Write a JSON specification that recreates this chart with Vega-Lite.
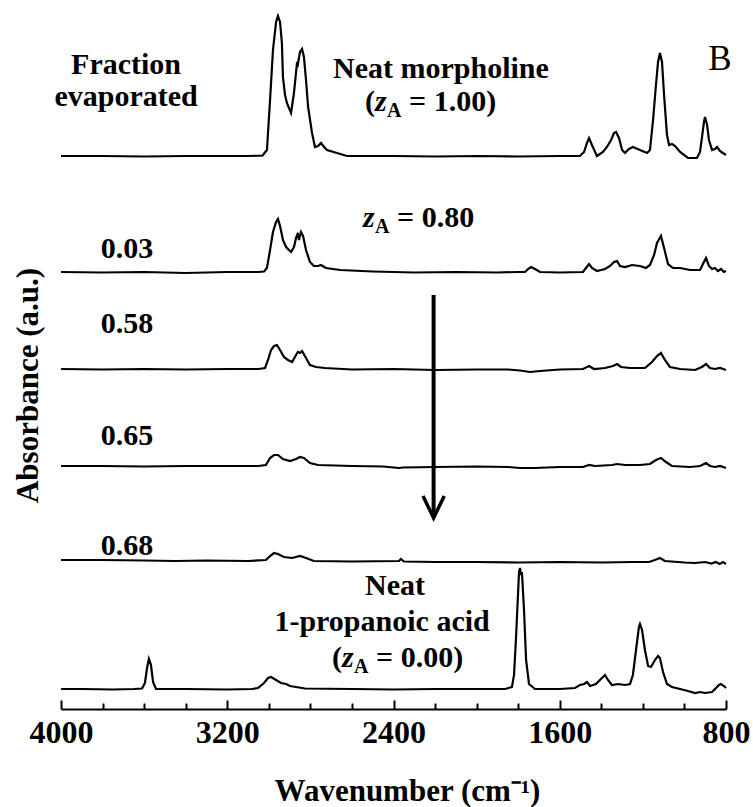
{
 "$schema": "https://vega.github.io/schema/vega-lite/v6.json",
 "width": 665,
 "height": 709,
 "autosize": {"type": "none"},
 "padding": {"left": 61, "top": 0, "right": 27, "bottom": 98},
 "background": "white",
 "config": {"view": {"stroke": null}, "font": "Liberation Serif"},
 "datasets": {
  "spec": [
   {"s":"m","wn":4000,"A":5.53},{"s":"m","wn":3800,"A":5.53},{"s":"m","wn":3600,"A":5.525},{"s":"m","wn":3400,"A":5.53},{"s":"m","wn":3200,"A":5.53},{"s":"m","wn":3100,"A":5.53},{"s":"m","wn":3030,"A":5.535},{"s":"m","wn":3009,"A":5.59},{"s":"m","wn":2994,"A":6.09},{"s":"m","wn":2980,"A":6.59},{"s":"m","wn":2965,"A":6.87},{"s":"m","wn":2956,"A":6.93},{"s":"m","wn":2946,"A":6.87},{"s":"m","wn":2937,"A":6.66},{"s":"m","wn":2932,"A":6.32},{"s":"m","wn":2922,"A":6.14},{"s":"m","wn":2913,"A":6.06},{"s":"m","wn":2903,"A":6.01},{"s":"m","wn":2893,"A":5.96},{"s":"m","wn":2879,"A":6.16},{"s":"m","wn":2864,"A":6.47},{"s":"m","wn":2860,"A":6.45},{"s":"m","wn":2850,"A":6.57},{"s":"m","wn":2840,"A":6.60},{"s":"m","wn":2831,"A":6.52},{"s":"m","wn":2821,"A":6.29},{"s":"m","wn":2811,"A":6.02},{"s":"m","wn":2792,"A":5.76},{"s":"m","wn":2778,"A":5.62},{"s":"m","wn":2763,"A":5.63},{"s":"m","wn":2749,"A":5.66},{"s":"m","wn":2734,"A":5.62},{"s":"m","wn":2720,"A":5.59},{"s":"m","wn":2672,"A":5.56},{"s":"m","wn":2624,"A":5.53},{"s":"m","wn":2400,"A":5.53},{"s":"m","wn":2200,"A":5.525},{"s":"m","wn":2000,"A":5.53},{"s":"m","wn":1800,"A":5.525},{"s":"m","wn":1600,"A":5.53},{"s":"m","wn":1503,"A":5.53},{"s":"m","wn":1483,"A":5.57},{"s":"m","wn":1469,"A":5.66},{"s":"m","wn":1459,"A":5.71},{"s":"m","wn":1445,"A":5.64},{"s":"m","wn":1421,"A":5.53},{"s":"m","wn":1392,"A":5.57},{"s":"m","wn":1373,"A":5.62},{"s":"m","wn":1353,"A":5.69},{"s":"m","wn":1339,"A":5.76},{"s":"m","wn":1329,"A":5.77},{"s":"m","wn":1315,"A":5.71},{"s":"m","wn":1300,"A":5.59},{"s":"m","wn":1286,"A":5.56},{"s":"m","wn":1267,"A":5.60},{"s":"m","wn":1248,"A":5.62},{"s":"m","wn":1214,"A":5.59},{"s":"m","wn":1180,"A":5.56},{"s":"m","wn":1166,"A":5.59},{"s":"m","wn":1151,"A":5.89},{"s":"m","wn":1137,"A":6.24},{"s":"m","wn":1127,"A":6.47},{"s":"m","wn":1118,"A":6.56},{"s":"m","wn":1108,"A":6.47},{"s":"m","wn":1098,"A":6.14},{"s":"m","wn":1084,"A":5.74},{"s":"m","wn":1074,"A":5.64},{"s":"m","wn":1060,"A":5.65},{"s":"m","wn":1045,"A":5.63},{"s":"m","wn":1021,"A":5.57},{"s":"m","wn":983,"A":5.51},{"s":"m","wn":940,"A":5.51},{"s":"m","wn":925,"A":5.57},{"s":"m","wn":916,"A":5.71},{"s":"m","wn":906,"A":5.87},{"s":"m","wn":901,"A":5.92},{"s":"m","wn":891,"A":5.84},{"s":"m","wn":882,"A":5.69},{"s":"m","wn":867,"A":5.59},{"s":"m","wn":853,"A":5.60},{"s":"m","wn":843,"A":5.62},{"s":"m","wn":829,"A":5.58},{"s":"m","wn":815,"A":5.56},{"s":"m","wn":800,"A":5.54},

   {"s":"a","wn":4000,"A":4.37},{"s":"a","wn":3800,"A":4.365},{"s":"a","wn":3600,"A":4.37},{"s":"a","wn":3400,"A":4.36},{"s":"a","wn":3200,"A":4.37},{"s":"a","wn":3050,"A":4.37},{"s":"a","wn":3023,"A":4.375},{"s":"a","wn":3009,"A":4.41},{"s":"a","wn":2994,"A":4.59},{"s":"a","wn":2980,"A":4.77},{"s":"a","wn":2965,"A":4.87},{"s":"a","wn":2956,"A":4.90},{"s":"a","wn":2946,"A":4.83},{"s":"a","wn":2932,"A":4.69},{"s":"a","wn":2917,"A":4.62},{"s":"a","wn":2903,"A":4.59},{"s":"a","wn":2893,"A":4.57},{"s":"a","wn":2879,"A":4.62},{"s":"a","wn":2869,"A":4.71},{"s":"a","wn":2860,"A":4.76},{"s":"a","wn":2855,"A":4.69},{"s":"a","wn":2845,"A":4.77},{"s":"a","wn":2835,"A":4.73},{"s":"a","wn":2821,"A":4.59},{"s":"a","wn":2802,"A":4.47},{"s":"a","wn":2783,"A":4.43},{"s":"a","wn":2763,"A":4.43},{"s":"a","wn":2749,"A":4.44},{"s":"a","wn":2725,"A":4.41},{"s":"a","wn":2657,"A":4.39},{"s":"a","wn":2500,"A":4.375},{"s":"a","wn":2300,"A":4.365},{"s":"a","wn":2100,"A":4.37},{"s":"a","wn":1900,"A":4.365},{"s":"a","wn":1800,"A":4.37},{"s":"a","wn":1767,"A":4.37},{"s":"a","wn":1753,"A":4.40},{"s":"a","wn":1738,"A":4.42},{"s":"a","wn":1719,"A":4.40},{"s":"a","wn":1695,"A":4.37},{"s":"a","wn":1600,"A":4.365},{"s":"a","wn":1488,"A":4.37},{"s":"a","wn":1474,"A":4.41},{"s":"a","wn":1459,"A":4.45},{"s":"a","wn":1445,"A":4.41},{"s":"a","wn":1421,"A":4.38},{"s":"a","wn":1382,"A":4.40},{"s":"a","wn":1358,"A":4.43},{"s":"a","wn":1339,"A":4.47},{"s":"a","wn":1324,"A":4.48},{"s":"a","wn":1310,"A":4.43},{"s":"a","wn":1286,"A":4.42},{"s":"a","wn":1252,"A":4.44},{"s":"a","wn":1214,"A":4.43},{"s":"a","wn":1185,"A":4.41},{"s":"a","wn":1166,"A":4.44},{"s":"a","wn":1146,"A":4.54},{"s":"a","wn":1132,"A":4.66},{"s":"a","wn":1113,"A":4.73},{"s":"a","wn":1098,"A":4.61},{"s":"a","wn":1079,"A":4.45},{"s":"a","wn":1055,"A":4.41},{"s":"a","wn":1021,"A":4.41},{"s":"a","wn":973,"A":4.39},{"s":"a","wn":925,"A":4.39},{"s":"a","wn":911,"A":4.45},{"s":"a","wn":896,"A":4.51},{"s":"a","wn":882,"A":4.43},{"s":"a","wn":867,"A":4.40},{"s":"a","wn":853,"A":4.41},{"s":"a","wn":839,"A":4.38},{"s":"a","wn":824,"A":4.40},{"s":"a","wn":810,"A":4.37},{"s":"a","wn":800,"A":4.38},

   {"s":"b","wn":4000,"A":3.40},{"s":"b","wn":3800,"A":3.395},{"s":"b","wn":3600,"A":3.40},{"s":"b","wn":3400,"A":3.395},{"s":"b","wn":3200,"A":3.40},{"s":"b","wn":3050,"A":3.40},{"s":"b","wn":3018,"A":3.41},{"s":"b","wn":3004,"A":3.49},{"s":"b","wn":2989,"A":3.59},{"s":"b","wn":2975,"A":3.63},{"s":"b","wn":2961,"A":3.64},{"s":"b","wn":2946,"A":3.59},{"s":"b","wn":2927,"A":3.52},{"s":"b","wn":2908,"A":3.49},{"s":"b","wn":2888,"A":3.47},{"s":"b","wn":2869,"A":3.54},{"s":"b","wn":2860,"A":3.57},{"s":"b","wn":2850,"A":3.56},{"s":"b","wn":2840,"A":3.58},{"s":"b","wn":2821,"A":3.51},{"s":"b","wn":2802,"A":3.44},{"s":"b","wn":2773,"A":3.42},{"s":"b","wn":2730,"A":3.41},{"s":"b","wn":2600,"A":3.395},{"s":"b","wn":2400,"A":3.40},{"s":"b","wn":2200,"A":3.39},{"s":"b","wn":2000,"A":3.395},{"s":"b","wn":1850,"A":3.395},{"s":"b","wn":1791,"A":3.385},{"s":"b","wn":1743,"A":3.37},{"s":"b","wn":1695,"A":3.38},{"s":"b","wn":1599,"A":3.395},{"s":"b","wn":1488,"A":3.40},{"s":"b","wn":1459,"A":3.43},{"s":"b","wn":1435,"A":3.40},{"s":"b","wn":1382,"A":3.41},{"s":"b","wn":1344,"A":3.43},{"s":"b","wn":1324,"A":3.45},{"s":"b","wn":1305,"A":3.42},{"s":"b","wn":1262,"A":3.41},{"s":"b","wn":1190,"A":3.41},{"s":"b","wn":1156,"A":3.47},{"s":"b","wn":1132,"A":3.53},{"s":"b","wn":1113,"A":3.56},{"s":"b","wn":1094,"A":3.49},{"s":"b","wn":1070,"A":3.42},{"s":"b","wn":1021,"A":3.40},{"s":"b","wn":949,"A":3.39},{"s":"b","wn":916,"A":3.42},{"s":"b","wn":896,"A":3.45},{"s":"b","wn":877,"A":3.41},{"s":"b","wn":853,"A":3.40},{"s":"b","wn":829,"A":3.41},{"s":"b","wn":800,"A":3.39},

   {"s":"c","wn":4000,"A":2.43},{"s":"c","wn":3800,"A":2.43},{"s":"c","wn":3600,"A":2.425},{"s":"c","wn":3400,"A":2.43},{"s":"c","wn":3200,"A":2.43},{"s":"c","wn":3050,"A":2.43},{"s":"c","wn":3014,"A":2.44},{"s":"c","wn":2994,"A":2.51},{"s":"c","wn":2975,"A":2.54},{"s":"c","wn":2956,"A":2.54},{"s":"c","wn":2932,"A":2.50},{"s":"c","wn":2898,"A":2.48},{"s":"c","wn":2869,"A":2.50},{"s":"c","wn":2850,"A":2.52},{"s":"c","wn":2831,"A":2.51},{"s":"c","wn":2802,"A":2.46},{"s":"c","wn":2763,"A":2.44},{"s":"c","wn":2600,"A":2.43},{"s":"c","wn":2450,"A":2.425},{"s":"c","wn":2374,"A":2.41},{"s":"c","wn":2354,"A":2.415},{"s":"c","wn":2200,"A":2.42},{"s":"c","wn":2000,"A":2.425},{"s":"c","wn":1850,"A":2.42},{"s":"c","wn":1791,"A":2.41},{"s":"c","wn":1719,"A":2.41},{"s":"c","wn":1600,"A":2.42},{"s":"c","wn":1488,"A":2.42},{"s":"c","wn":1459,"A":2.44},{"s":"c","wn":1430,"A":2.43},{"s":"c","wn":1349,"A":2.44},{"s":"c","wn":1324,"A":2.45},{"s":"c","wn":1286,"A":2.44},{"s":"c","wn":1214,"A":2.44},{"s":"c","wn":1166,"A":2.45},{"s":"c","wn":1137,"A":2.49},{"s":"c","wn":1113,"A":2.51},{"s":"c","wn":1089,"A":2.47},{"s":"c","wn":1060,"A":2.43},{"s":"c","wn":973,"A":2.42},{"s":"c","wn":925,"A":2.43},{"s":"c","wn":896,"A":2.46},{"s":"c","wn":877,"A":2.43},{"s":"c","wn":853,"A":2.42},{"s":"c","wn":829,"A":2.43},{"s":"c","wn":800,"A":2.41},

   {"s":"d","wn":4000,"A":1.49},{"s":"d","wn":3800,"A":1.49},{"s":"d","wn":3600,"A":1.485},{"s":"d","wn":3450,"A":1.48},{"s":"d","wn":3300,"A":1.485},{"s":"d","wn":3100,"A":1.48},{"s":"d","wn":3014,"A":1.49},{"s":"d","wn":2994,"A":1.53},{"s":"d","wn":2975,"A":1.56},{"s":"d","wn":2956,"A":1.55},{"s":"d","wn":2927,"A":1.52},{"s":"d","wn":2888,"A":1.51},{"s":"d","wn":2850,"A":1.53},{"s":"d","wn":2821,"A":1.51},{"s":"d","wn":2783,"A":1.48},{"s":"d","wn":2600,"A":1.475},{"s":"d","wn":2374,"A":1.48},{"s":"d","wn":2364,"A":1.50},{"s":"d","wn":2350,"A":1.475},{"s":"d","wn":2200,"A":1.47},{"s":"d","wn":2000,"A":1.47},{"s":"d","wn":1800,"A":1.465},{"s":"d","wn":1600,"A":1.47},{"s":"d","wn":1400,"A":1.465},{"s":"d","wn":1250,"A":1.47},{"s":"d","wn":1170,"A":1.47},{"s":"d","wn":1142,"A":1.49},{"s":"d","wn":1118,"A":1.51},{"s":"d","wn":1094,"A":1.48},{"s":"d","wn":1000,"A":1.465},{"s":"d","wn":950,"A":1.46},{"s":"d","wn":900,"A":1.47},{"s":"d","wn":870,"A":1.455},{"s":"d","wn":850,"A":1.47},{"s":"d","wn":830,"A":1.45},{"s":"d","wn":815,"A":1.47},{"s":"d","wn":800,"A":1.45},

   {"s":"e","wn":4000,"A":0.20},{"s":"e","wn":3900,"A":0.20},{"s":"e","wn":3750,"A":0.195},{"s":"e","wn":3650,"A":0.20},{"s":"e","wn":3610,"A":0.205},{"s":"e","wn":3596,"A":0.26},{"s":"e","wn":3586,"A":0.41},{"s":"e","wn":3577,"A":0.50},{"s":"e","wn":3567,"A":0.44},{"s":"e","wn":3557,"A":0.27},{"s":"e","wn":3543,"A":0.20},{"s":"e","wn":3400,"A":0.20},{"s":"e","wn":3200,"A":0.195},{"s":"e","wn":3080,"A":0.20},{"s":"e","wn":3052,"A":0.21},{"s":"e","wn":3023,"A":0.26},{"s":"e","wn":3004,"A":0.31},{"s":"e","wn":2989,"A":0.32},{"s":"e","wn":2965,"A":0.29},{"s":"e","wn":2941,"A":0.26},{"s":"e","wn":2917,"A":0.25},{"s":"e","wn":2898,"A":0.23},{"s":"e","wn":2869,"A":0.22},{"s":"e","wn":2826,"A":0.205},{"s":"e","wn":2600,"A":0.20},{"s":"e","wn":2400,"A":0.195},{"s":"e","wn":2200,"A":0.20},{"s":"e","wn":2000,"A":0.20},{"s":"e","wn":1863,"A":0.20},{"s":"e","wn":1830,"A":0.22},{"s":"e","wn":1820,"A":0.34},{"s":"e","wn":1811,"A":0.69},{"s":"e","wn":1801,"A":1.14},{"s":"e","wn":1796,"A":1.37},{"s":"e","wn":1791,"A":1.41},{"s":"e","wn":1787,"A":1.34},{"s":"e","wn":1782,"A":1.37},{"s":"e","wn":1772,"A":0.99},{"s":"e","wn":1762,"A":0.49},{"s":"e","wn":1748,"A":0.25},{"s":"e","wn":1719,"A":0.20},{"s":"e","wn":1600,"A":0.20},{"s":"e","wn":1527,"A":0.21},{"s":"e","wn":1503,"A":0.24},{"s":"e","wn":1483,"A":0.25},{"s":"e","wn":1469,"A":0.27},{"s":"e","wn":1454,"A":0.23},{"s":"e","wn":1426,"A":0.25},{"s":"e","wn":1397,"A":0.31},{"s":"e","wn":1382,"A":0.34},{"s":"e","wn":1368,"A":0.29},{"s":"e","wn":1349,"A":0.24},{"s":"e","wn":1320,"A":0.25},{"s":"e","wn":1286,"A":0.24},{"s":"e","wn":1262,"A":0.25},{"s":"e","wn":1248,"A":0.34},{"s":"e","wn":1233,"A":0.59},{"s":"e","wn":1219,"A":0.82},{"s":"e","wn":1214,"A":0.85},{"s":"e","wn":1204,"A":0.79},{"s":"e","wn":1190,"A":0.59},{"s":"e","wn":1175,"A":0.43},{"s":"e","wn":1161,"A":0.42},{"s":"e","wn":1142,"A":0.49},{"s":"e","wn":1127,"A":0.53},{"s":"e","wn":1118,"A":0.51},{"s":"e","wn":1103,"A":0.37},{"s":"e","wn":1084,"A":0.25},{"s":"e","wn":1060,"A":0.22},{"s":"e","wn":1021,"A":0.20},{"s":"e","wn":983,"A":0.18},{"s":"e","wn":949,"A":0.16},{"s":"e","wn":925,"A":0.17},{"s":"e","wn":901,"A":0.16},{"s":"e","wn":867,"A":0.17},{"s":"e","wn":848,"A":0.21},{"s":"e","wn":834,"A":0.24},{"s":"e","wn":824,"A":0.25},{"s":"e","wn":810,"A":0.23},{"s":"e","wn":800,"A":0.21}
  ],
  "plain": [
   {"t":"Fraction","wn":3687,"A":6.35},{"t":"evaporated","wn":3687,"A":6.03},
   {"t":"0.03","wn":3682,"A":4.51},{"t":"0.58","wn":3682,"A":3.76},{"t":"0.65","wn":3682,"A":2.64},{"t":"0.68","wn":3682,"A":1.54},
   {"t":"Neat","wn":2393,"A":1.14},{"t":"1-propanoic acid","wn":2455,"A":0.78}
  ],
  "left": [
   {"t":"Neat morpholine","wn":2691,"A":6.31},
   {"t":"(","wn":2537,"A":5.98},{"t":"= 1.00)","wn":2325,"A":5.98},
   {"t":"= 0.80","wn":2383,"A":4.82},
   {"t":"(","wn":2696,"A":0.42},{"t":"= 0.00)","wn":2484,"A":0.42}
  ],
  "ital": [
   {"t":"z","wn":2489,"A":5.98},{"t":"z","wn":2547,"A":4.82},{"t":"z","wn":2648,"A":0.42}
  ],
  "sub": [
   {"t":"A","wn":2431,"A":5.92},{"t":"A","wn":2489,"A":4.76},{"t":"A","wn":2590,"A":0.36}
  ],
  "panel": [{"t":"B","wn":829,"A":6.39}],
  "arrow": [{"wn":2207,"A":4.14,"A2":1.93}],
  "head": [{"o":1,"wn":2258,"A":2.13},{"o":2,"wn":2207,"A":1.91},{"o":3,"wn":2156,"A":2.13}]
 },
 "encoding": {
  "x": {
   "field": "wn", "type": "quantitative",
   "scale": {"domain": [800, 4000], "reverse": true, "nice": false, "zero": false},
   "axis": {
    "title": "Wavenumber (cm⁻¹)",
    "values": [4000,3800,3600,3400,3200,3000,2800,2600,2400,2200,2000,1800,1600,1400,1200,1000,800],
    "labelExpr": "datum.value % 800 === 0 ? format(datum.value, 'd') : ''",
    "labelFont": "Liberation Serif", "labelFontWeight": "bold", "labelFontSize": 32, "labelColor": "black",
    "labelPadding": 17, "labelOverlap": false, "labelFlush": false, "labelBound": false,
    "tickSize": {"condition": {"test": "datum.value % 800 === 0", "value": -9}, "value": -6},
    "tickWidth": 2, "tickColor": "black", "domainColor": "black", "domainWidth": 2, "grid": false,
    "titleFont": "Liberation Serif", "titleFontWeight": "bold", "titleFontSize": 31, "titleColor": "black",
    "titleX": 346, "titleY": 91, "titleBaseline": "alphabetic", "titleAlign": "center"
   }
  },
  "y": {
   "field": "A", "type": "quantitative",
   "scale": {"domain": [0, 7.09], "nice": false, "zero": false},
   "axis": {
    "title": "Absorbance (a.u.)", "ticks": false, "labels": false, "domain": false, "grid": false,
    "titleFont": "Liberation Serif", "titleFontWeight": "bold", "titleFontSize": 31, "titleColor": "black",
    "titleX": -33, "titleY": 385, "titleAngle": 270, "titleAlign": "center", "titleBaseline": "middle"
   }
  }
 },
 "layer": [
  {
   "data": {"name": "spec"},
   "mark": {"type": "line", "color": "black", "strokeWidth": 2.2},
   "encoding": {"detail": {"field": "s"}}
  },
  {
   "data": {"name": "arrow"},
   "mark": {"type": "rule", "color": "black", "strokeWidth": 4},
   "encoding": {"y2": {"field": "A2"}}
  },
  {
   "data": {"name": "head"},
   "mark": {"type": "line", "color": "black", "strokeWidth": 3.5, "strokeJoin": "miter"},
   "encoding": {"order": {"field": "o"}}
  },
  {
   "data": {"name": "plain"},
   "mark": {"type": "text", "align": "center", "baseline": "alphabetic", "font": "Liberation Serif", "fontWeight": "bold", "fontSize": 30, "color": "black"},
   "encoding": {"text": {"field": "t"}}
  },
  {
   "data": {"name": "left"},
   "mark": {"type": "text", "align": "left", "baseline": "alphabetic", "font": "Liberation Serif", "fontWeight": "bold", "fontSize": 30, "color": "black"},
   "encoding": {"text": {"field": "t"}}
  },
  {
   "data": {"name": "ital"},
   "mark": {"type": "text", "align": "left", "baseline": "alphabetic", "font": "Liberation Serif", "fontWeight": "bold", "fontStyle": "italic", "fontSize": 30, "color": "black"},
   "encoding": {"text": {"field": "t"}}
  },
  {
   "data": {"name": "sub"},
   "mark": {"type": "text", "align": "left", "baseline": "alphabetic", "font": "Liberation Serif", "fontWeight": "bold", "fontSize": 20, "color": "black"},
   "encoding": {"text": {"field": "t"}}
  },
  {
   "data": {"name": "panel"},
   "mark": {"type": "text", "align": "center", "baseline": "alphabetic", "font": "Liberation Serif", "fontWeight": "normal", "fontSize": 35, "color": "black"},
   "encoding": {"text": {"field": "t"}}
  }
 ]
}
